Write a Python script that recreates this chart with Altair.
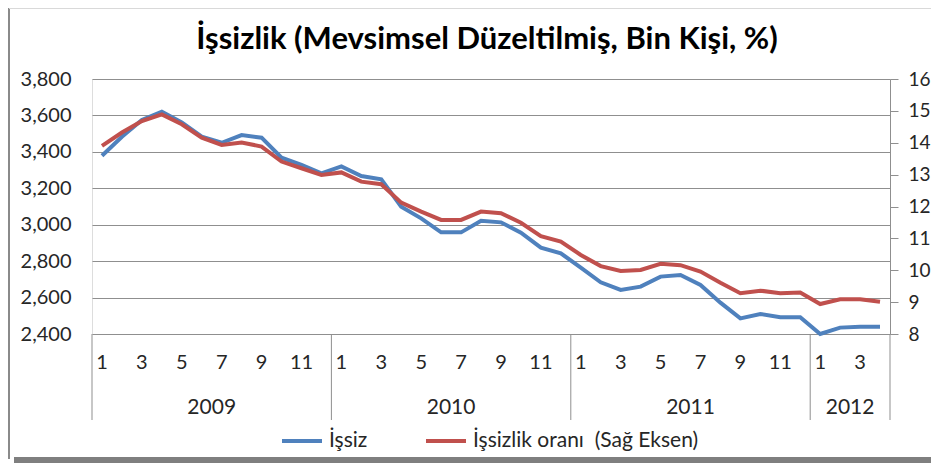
import altair as alt
import pandas as pd

title_text = "İşsizlik (Mevsimsel Düzeltilmiş, Bin Kişi, %)"
series_names = ["İşsiz", "İşsizlik oranı\u00a0\u00a0(Sağ Eksen)"]
series_colors = ["#4F81BD", "#C0504D"]

years = [2009, 2010, 2011, 2012]
months_per_year = [12, 12, 12, 4]

issiz = [3379, 3483, 3575, 3621, 3562, 3483, 3450, 3492, 3478, 3368, 3328, 3282,
         3320, 3267, 3249, 3099, 3035, 2958, 2958, 3022, 3013, 2956, 2874, 2843,
         2765, 2684, 2642, 2660, 2715, 2724, 2669, 2572, 2486, 2510, 2492, 2492,
         2400, 2435, 2440, 2440]

oran = [13.9, 14.32, 14.68, 14.89, 14.58, 14.16, 13.93, 14.01, 13.88, 13.41, 13.2, 12.99,
        13.07, 12.78, 12.70, 12.12, 11.84, 11.58, 11.58, 11.84, 11.79, 11.49, 11.07, 10.9,
        10.48, 10.13, 9.98, 10.01, 10.2, 10.16, 9.96, 9.61, 9.28, 9.36, 9.28, 9.3,
        8.94, 9.09, 9.09, 9.01]

left_ticks = [2400, 2600, 2800, 3000, 3200, 3400, 3600, 3800]
right_ticks = [8, 9, 10, 11, 12, 13, 14, 15, 16]

# ---- tables built from the arrays ----
rows = []
idx = 0
for y, n in zip(years, months_per_year):
    for m in range(1, n + 1):
        rows.append({"idx": idx, "year": y, "month": m})
        idx += 1
months_df = pd.DataFrame(rows)
n_pts = len(months_df)

long_df = pd.concat([
    months_df.assign(value=issiz, series=series_names[0]),
    months_df.assign(value=oran, series=series_names[1]),
], ignore_index=True)

year_df = months_df.groupby("year")["idx"].agg(["min", "max"]).reset_index()
year_df["center"] = (year_df["min"] + year_df["max"]) / 2
bounds = [-0.5] + [float(v) + 0.5 for v in year_df["max"]]
sep_df = pd.DataFrame({"b": bounds})

W, H = 798, 255
FONT = "Lato"
GRID = "#8f8f8f"
TXT = "#262626"
FS = 20

xscale = alt.Scale(domain=[-0.5, n_pts - 0.5], nice=False, zero=False)
color = alt.Color(
    "series:N",
    scale=alt.Scale(domain=series_names, range=series_colors),
    legend=alt.Legend(
        title=None, orient="none", legendX=188, legendY=340,
        direction="horizontal", symbolType="stroke", symbolSize=1600,
        symbolStrokeWidth=4, labelFontSize=21, labelFont=FONT,
        labelColor=TXT, columnPadding=50, labelOffset=5, labelLimit=400,
    ),
)

blue = alt.Chart(long_df).transform_filter(
    alt.datum.series == series_names[0]
).mark_line(strokeWidth=4).encode(
    x=alt.X("idx:Q", scale=xscale, axis=None),
    y=alt.Y("value:Q", scale=alt.Scale(domain=[2400, 3800], nice=False, zero=False),
            axis=alt.Axis(title=None, orient="left", values=left_ticks, format=",.0f",
                          grid=True, gridColor=GRID, gridWidth=1, domain=False,
                          ticks=False, labelPadding=21, labelFontSize=FS,
                          labelFont=FONT, labelColor=TXT)),
    color=color,
)

red = alt.Chart(long_df).transform_filter(
    alt.datum.series == series_names[1]
).mark_line(strokeWidth=4).encode(
    x=alt.X("idx:Q", scale=xscale, axis=None),
    y=alt.Y("value:Q", scale=alt.Scale(domain=[8, 16], nice=False, zero=False),
            axis=alt.Axis(title=None, orient="right", values=right_ticks, grid=False,
                          domain=True, domainColor=GRID, ticks=True, tickColor=GRID,
                          tickSize=8, labelPadding=10, labelFontSize=19,
                          labelFont=FONT, labelColor=TXT)),
    color=color,
)

month_labels = alt.Chart(months_df).transform_filter(
    alt.datum.month % 2 == 1
).mark_text(font=FONT, fontSize=FS, color=TXT, baseline="middle").encode(
    x=alt.X("idx:Q", scale=xscale, axis=None),
    y=alt.value(H + 29),
    text="month:N",
)

year_labels = alt.Chart(year_df).mark_text(
    font=FONT, fontSize=21, color=TXT, baseline="middle"
).encode(
    x=alt.X("center:Q", scale=xscale, axis=None),
    y=alt.value(H + 74),
    text="year:N",
)

separators = alt.Chart(sep_df).mark_rule(color=GRID, strokeWidth=1).encode(
    x=alt.X("b:Q", scale=xscale, axis=None),
    y=alt.value(H),
    y2=alt.value(H + 86),
)

title = alt.Chart(pd.DataFrame({"t": [title_text]})).mark_text(
    font=FONT, fontSize=31, fontWeight="bold", color="#000000", baseline="middle"
).encode(
    x=alt.value(W / 2 - 4),
    y=alt.value(-39),
    text="t:N",
)

frame_df = pd.DataFrame({"k": [0]})
left_border = alt.Chart(frame_df).mark_rule(color="#8a8a8a", strokeWidth=2).encode(
    x=alt.value(-83), y=alt.value(-71), y2=alt.value(380)
)
top_border = alt.Chart(frame_df).mark_rule(color="#d9d9d9", strokeWidth=1).encode(
    x=alt.value(-83), x2=alt.value(W + 41), y=alt.value(-70.5)
)
shadow = alt.Chart(frame_df).mark_rect(color="#7f7f7f").encode(
    x=alt.value(-78), x2=alt.value(W + 41), y=alt.value(378), y2=alt.value(384)
)

chart = alt.layer(
    separators, month_labels, year_labels, blue, red, title,
    left_border, top_border, shadow,
).resolve_scale(y="independent").properties(
    width=W, height=H,
    autosize=alt.AutoSizeParams(type="none"),
    padding={"left": 84, "top": 71, "right": 41, "bottom": 129},
).configure_view(stroke=None).configure(background="white")

chart.save("out.html", embed_options={"renderer": "svg", "actions": False})
